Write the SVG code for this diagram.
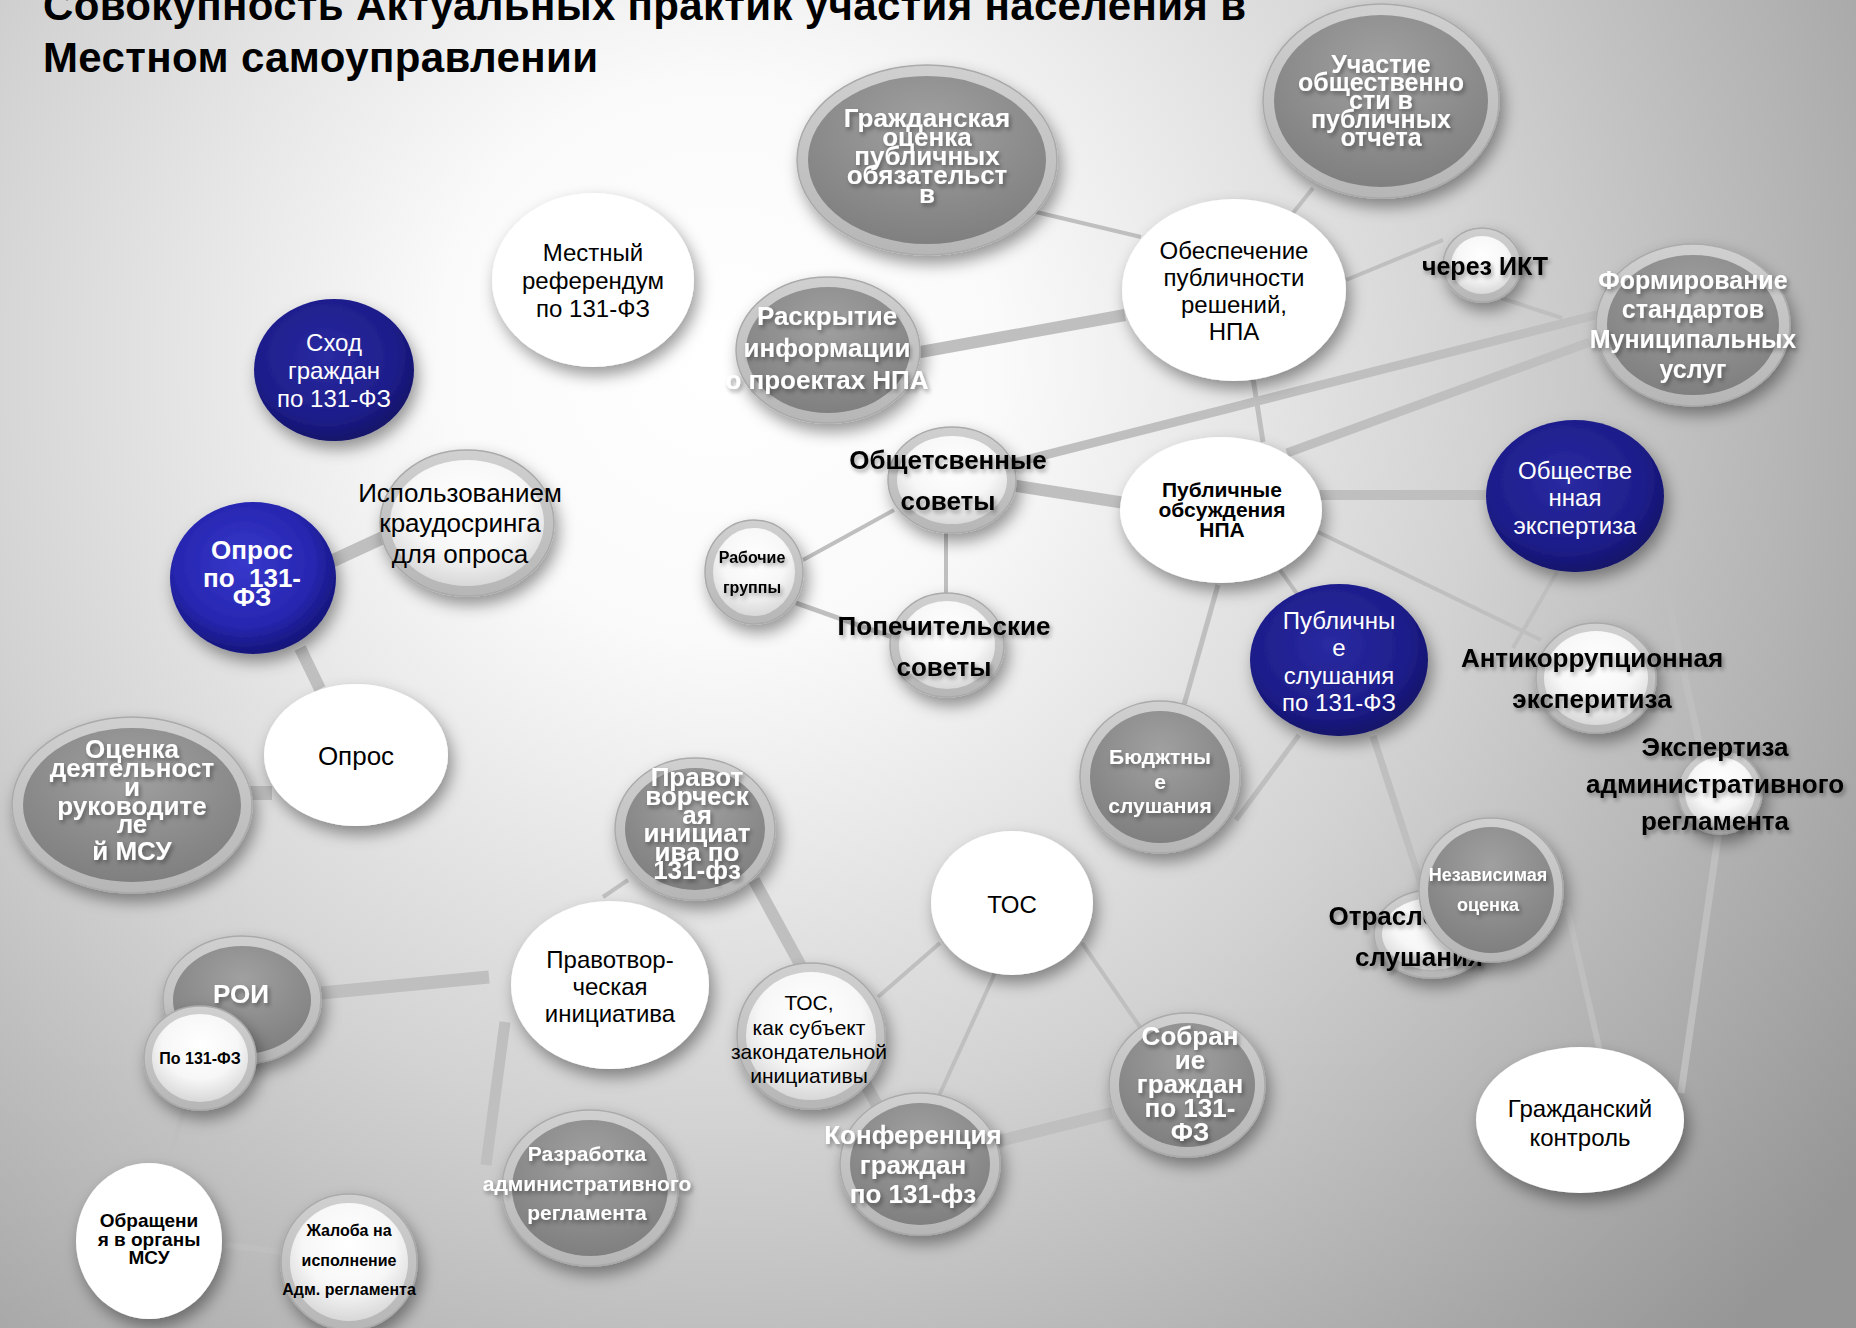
<svg xmlns="http://www.w3.org/2000/svg" width="1856" height="1328" viewBox="0 0 1856 1328">
<defs>
<radialGradient id="bg" gradientUnits="userSpaceOnUse" cx="720" cy="360" r="1400">
<stop offset="0" stop-color="#ffffff"/><stop offset="0.2" stop-color="#fafafa"/><stop offset="0.55" stop-color="#d2d2d2"/><stop offset="1" stop-color="#969696"/>
</radialGradient>
<radialGradient id="gBlue" cx="0.45" cy="0.4" r="0.6"><stop offset="0" stop-color="#2a2aa2"/><stop offset="0.75" stop-color="#1d1d8a"/><stop offset="1" stop-color="#12126a"/></radialGradient>
<radialGradient id="gBlue2" cx="0.45" cy="0.4" r="0.6"><stop offset="0" stop-color="#3838cc"/><stop offset="0.7" stop-color="#2626b0"/><stop offset="1" stop-color="#15157a"/></radialGradient>
<radialGradient id="gGray" cx="0.5" cy="0.3" r="0.8"><stop offset="0" stop-color="#a0a0a0"/><stop offset="1" stop-color="#7b7b7b"/></radialGradient>
<radialGradient id="gLight" cx="0.5" cy="0.35" r="0.65"><stop offset="0" stop-color="#ffffff"/><stop offset="0.6" stop-color="#f7f7f7"/><stop offset="1" stop-color="#d8d8d8"/></radialGradient>
<linearGradient id="gRing" x1="0" y1="0" x2="0" y2="1"><stop offset="0" stop-color="#d0d0d0"/><stop offset="1" stop-color="#b6b6b6"/></linearGradient>
<filter id="sh" x="-30%" y="-30%" width="170%" height="180%"><feDropShadow dx="4" dy="8" stdDeviation="8" flood-color="#000" flood-opacity="0.4"/></filter>
<filter id="ts" x="-10%" y="-30%" width="130%" height="180%"><feDropShadow dx="2" dy="3" stdDeviation="2" flood-color="#000" flood-opacity="0.35"/></filter>
<style>
.t{font-family:"Liberation Sans",Arial,sans-serif;text-anchor:middle;dominant-baseline:central}
.b{font-weight:bold}
.w{fill:#ffffff}
.k{fill:#000000}
.title{font-family:"Liberation Sans",Arial,sans-serif;font-weight:bold;font-size:42px;fill:#000}
.con line{stroke:#bfbfbf;stroke-linecap:butt}
.ring{fill:url(#gRing);stroke:#aaaaaa;stroke-width:1.5}
.gin{fill:url(#gGray)}
.lin{fill:url(#gLight)}
.wn{fill:#ffffff}
.blue{fill:url(#gBlue)}
.blue2{fill:url(#gBlue2)}
</style>
</defs>
<rect width="1856" height="1328" fill="url(#bg)"/>
<g id="title">
<text class="title" x="43" y="20" textLength="1203">Совокупность Актуальных практик участия населения в</text>
<text class="title" x="43" y="72" textLength="555">Местном самоуправлении</text>
</g>
<g id="connectors" class="con">
<line x1="1036" y1="212" x2="1141" y2="237" stroke-width="4"/>
<line x1="1313" y1="188" x2="1293" y2="213" stroke-width="4"/>
<line x1="915" y1="353" x2="1125" y2="315" stroke-width="12"/>
<line x1="1346" y1="280" x2="1443" y2="240" stroke-width="4"/>
<line x1="1501" y1="298" x2="1562" y2="318" stroke-width="4"/>
<line x1="1253" y1="378" x2="1263" y2="442" stroke-width="5"/>
<line x1="1010" y1="464" x2="1600" y2="314" stroke-width="9"/>
<line x1="1287" y1="453" x2="1590" y2="342" stroke-width="9"/>
<line x1="1010" y1="485" x2="1125" y2="503" stroke-width="12"/>
<line x1="894" y1="510" x2="803" y2="560" stroke-width="4"/>
<line x1="946" y1="532" x2="946" y2="595" stroke-width="4"/>
<line x1="796" y1="603" x2="892" y2="637" stroke-width="5"/>
<line x1="1320" y1="495" x2="1488" y2="495" stroke-width="10"/>
<line x1="1318" y1="532" x2="1541" y2="640" stroke-width="4"/>
<line x1="1557" y1="572" x2="1513" y2="648" stroke-width="4"/>
<line x1="1655" y1="540" x2="1703" y2="760" stroke-width="7"/>
<line x1="1719" y1="830" x2="1681" y2="1093" stroke-width="7"/>
<line x1="1280" y1="570" x2="1300" y2="598" stroke-width="4"/>
<line x1="1218" y1="585" x2="1184" y2="705" stroke-width="5"/>
<line x1="1299" y1="735" x2="1236" y2="820" stroke-width="5"/>
<line x1="1373" y1="736" x2="1423" y2="890" stroke-width="7"/>
<line x1="1567" y1="907" x2="1600" y2="1052" stroke-width="6"/>
<line x1="940" y1="943" x2="878" y2="997" stroke-width="4"/>
<line x1="995" y1="973" x2="938" y2="1098" stroke-width="4"/>
<line x1="1082" y1="943" x2="1140" y2="1027" stroke-width="4"/>
<line x1="995" y1="1142" x2="1112" y2="1113" stroke-width="12"/>
<line x1="754" y1="880" x2="878" y2="1107" stroke-width="12"/>
<line x1="603" y1="897" x2="628" y2="880" stroke-width="4"/>
<line x1="321" y1="993" x2="489" y2="977" stroke-width="13"/>
<line x1="505" y1="1022" x2="486" y2="1165" stroke-width="11"/>
<line x1="184" y1="1110" x2="167" y2="1167" stroke-width="5"/>
<line x1="225" y1="1245" x2="282" y2="1252" stroke-width="6"/>
<line x1="330" y1="562" x2="395" y2="532" stroke-width="13"/>
<line x1="300" y1="648" x2="320" y2="689" stroke-width="12"/>
<line x1="248" y1="793" x2="272" y2="793" stroke-width="14"/>
</g>
<g id="n-shod"><ellipse class="blue" cx="334" cy="370" rx="80" ry="71" filter="url(#sh)"/>
<text class="t w" font-size="24"><tspan x="334" y="342">Сход</tspan><tspan x="334" y="370">граждан</tspan><tspan x="334" y="398">по 131-ФЗ</tspan></text></g>
<g id="n-referendum"><ellipse class="wn" cx="593" cy="280" rx="101" ry="87" filter="url(#sh)"/>
<text class="t k" font-size="24"><tspan x="593" y="252">Местный</tspan><tspan x="593" y="280">референдум</tspan><tspan x="593" y="308">по 131-ФЗ</tspan></text></g>
<g id="n-ocenka-obyaz"><ellipse class="ring" cx="927" cy="160" rx="130" ry="95" filter="url(#sh)"/><ellipse class="gin" cx="927" cy="160" rx="119" ry="84"/>
<text class="t b w" font-size="26" filter="url(#ts)"><tspan x="927" y="118">Гражданская</tspan><tspan x="927" y="137">оценка</tspan><tspan x="927" y="156">публичных</tspan><tspan x="927" y="175">обязательст</tspan><tspan x="927" y="194">в</tspan></text></g>
<g id="n-uchastie"><ellipse class="ring" cx="1381" cy="101" rx="118" ry="97" filter="url(#sh)"/><ellipse class="gin" cx="1381" cy="101" rx="107" ry="86"/>
<text class="t b w" font-size="25" filter="url(#ts)"><tspan x="1381" y="64">Участие</tspan><tspan x="1381" y="82">общественно</tspan><tspan x="1381" y="100">сти в</tspan><tspan x="1381" y="119">публичных</tspan><tspan x="1381" y="137">отчета</tspan></text></g>
<g id="n-obespechenie"><ellipse class="wn" cx="1234" cy="290" rx="112" ry="91" filter="url(#sh)"/>
<text class="t k" font-size="24"><tspan x="1234" y="250">Обеспечение</tspan><tspan x="1234" y="277">публичности</tspan><tspan x="1234" y="304">решений,</tspan><tspan x="1234" y="331">НПА</tspan></text></g>
<g id="n-ikt"><ellipse class="ring" cx="1482" cy="265" rx="39" ry="37" filter="url(#sh)"/><ellipse class="lin" cx="1482" cy="265" rx="31" ry="29"/>
<text class="t b k" font-size="25" x="1485" y="266" filter="url(#ts)">через ИКТ</text></g>
<g id="n-standarty"><ellipse class="ring" cx="1693" cy="325" rx="97" ry="81" filter="url(#sh)"/><ellipse class="gin" cx="1693" cy="325" rx="86" ry="70"/>
<text class="t b w" font-size="25" filter="url(#ts)"><tspan x="1693" y="280">Формирование</tspan><tspan x="1693" y="309">стандартов</tspan><tspan x="1693" y="339">Муниципальных</tspan><tspan x="1693" y="369">услуг</tspan></text></g>
<g id="n-raskrytie"><ellipse class="ring" cx="828" cy="350" rx="92" ry="73" filter="url(#sh)"/><ellipse class="gin" cx="828" cy="350" rx="82" ry="63"/>
<text class="t b w" font-size="26" filter="url(#ts)"><tspan x="827" y="316">Раскрытие</tspan><tspan x="827" y="348">информации</tspan><tspan x="827" y="380">о проектах НПА</tspan></text></g>
<g id="n-obsh-sovety"><ellipse class="ring" cx="952" cy="480" rx="64" ry="53" filter="url(#sh)"/><ellipse class="lin" cx="952" cy="480" rx="55" ry="44"/>
<text class="t b k" font-size="26" filter="url(#ts)"><tspan x="948" y="460">Общетсвенные</tspan><tspan x="948" y="501">советы</tspan></text></g>
<g id="n-rabochie"><ellipse class="ring" cx="754" cy="572" rx="49" ry="52" filter="url(#sh)"/><ellipse class="lin" cx="754" cy="572" rx="41" ry="44"/>
<text class="t b k" font-size="16" filter="url(#ts)"><tspan x="752" y="557">Рабочие</tspan><tspan x="752" y="587">группы</tspan></text></g>
<g id="n-popech"><ellipse class="ring" cx="947" cy="645" rx="57" ry="52" filter="url(#sh)"/><ellipse class="lin" cx="947" cy="645" rx="48" ry="44"/>
<text class="t b k" font-size="26" filter="url(#ts)"><tspan x="944" y="626">Попечительские</tspan><tspan x="944" y="667">советы</tspan></text></g>
<g id="n-obsuzhdeniya"><ellipse class="wn" cx="1221" cy="510" rx="101" ry="73" filter="url(#sh)"/>
<text class="t b k" font-size="21"><tspan x="1222" y="489">Публичные</tspan><tspan x="1222" y="509">обсуждения</tspan><tspan x="1222" y="529">НПА</tspan></text></g>
<g id="n-obsh-ekspertiza"><ellipse class="blue" cx="1575" cy="496" rx="89" ry="76" filter="url(#sh)"/>
<text class="t w" font-size="24"><tspan x="1575" y="470">Обществе</tspan><tspan x="1575" y="497">нная</tspan><tspan x="1575" y="525">экспертиза</tspan></text></g>
<g id="n-slushaniya"><ellipse class="blue" cx="1339" cy="660" rx="89" ry="76" filter="url(#sh)"/>
<text class="t w" font-size="24"><tspan x="1339" y="620">Публичны</tspan><tspan x="1339" y="647">е</tspan><tspan x="1339" y="675">слушания</tspan><tspan x="1339" y="702">по 131-ФЗ</tspan></text></g>
<g id="n-antikorr"><ellipse class="ring" cx="1596" cy="678" rx="60" ry="55" filter="url(#sh)"/><ellipse class="lin" cx="1596" cy="678" rx="52" ry="47"/>
<text class="t b k" font-size="26" filter="url(#ts)"><tspan x="1592" y="658">Антикоррупционная</tspan><tspan x="1592" y="699">эксперитиза</tspan></text></g>
<g id="n-ekspertiza-adm"><ellipse class="ring" cx="1720" cy="792" rx="42" ry="42" filter="url(#sh)"/><ellipse class="lin" cx="1720" cy="792" rx="35" ry="35"/>
<text class="t b k" font-size="26" filter="url(#ts)"><tspan x="1715" y="747">Экспертиза</tspan><tspan x="1715" y="784">административного</tspan><tspan x="1715" y="821">регламента</tspan></text></g>
<g id="n-byudzhet"><ellipse class="ring" cx="1160" cy="777" rx="80" ry="76" filter="url(#sh)"/><ellipse class="gin" cx="1160" cy="777" rx="70" ry="66"/>
<text class="t b w" font-size="21" filter="url(#ts)"><tspan x="1160" y="756">Бюджтны</tspan><tspan x="1160" y="781">е</tspan><tspan x="1160" y="805">слушания</tspan></text></g>
<g id="n-otrasl"><ellipse class="ring" cx="1432" cy="934" rx="58" ry="44" filter="url(#sh)"/><ellipse class="lin" cx="1432" cy="934" rx="50" ry="36"/>
<text class="t b k" font-size="26" filter="url(#ts)"><tspan x="1409" y="916">Отраслевые</tspan><tspan x="1419" y="957">слушания</tspan></text></g>
<g id="n-nezavisimaya"><ellipse class="ring" cx="1491" cy="890" rx="72" ry="72" filter="url(#sh)"/><ellipse class="gin" cx="1491" cy="890" rx="63" ry="63"/>
<text class="t b w" font-size="18" filter="url(#ts)"><tspan x="1488" y="875">Независимая</tspan><tspan x="1488" y="905">оценка</tspan></text></g>
<g id="n-grazh-kontrol"><ellipse class="wn" cx="1580" cy="1120" rx="104" ry="73" filter="url(#sh)"/>
<text class="t k" font-size="24"><tspan x="1580" y="1108">Гражданский</tspan><tspan x="1580" y="1137">контроль</tspan></text></g>
<g id="n-tos"><ellipse class="wn" cx="1012" cy="903" rx="81" ry="72" filter="url(#sh)"/>
<text class="t k" font-size="24" x="1012" y="904">ТОС</text></g>
<g id="n-tos-subj"><ellipse class="ring" cx="811" cy="1036" rx="74" ry="73" filter="url(#sh)"/><ellipse class="lin" cx="811" cy="1036" rx="65" ry="64"/>
<text class="t k" font-size="21"><tspan x="809" y="1002">ТОС,</tspan><tspan x="809" y="1027">как субъект</tspan><tspan x="809" y="1051">закондательной</tspan><tspan x="809" y="1075">инициативы</tspan></text></g>
<g id="n-pravotv-131"><ellipse class="ring" cx="695" cy="829" rx="80" ry="71" filter="url(#sh)"/><ellipse class="gin" cx="695" cy="829" rx="70" ry="61"/>
<text class="t b w" font-size="26" filter="url(#ts)"><tspan x="697" y="777">Правот</tspan><tspan x="697" y="796">ворческ</tspan><tspan x="697" y="815">ая</tspan><tspan x="697" y="833">инициат</tspan><tspan x="697" y="852">ива по</tspan><tspan x="697" y="870">131-фз</tspan></text></g>
<g id="n-pravotv"><ellipse class="wn" cx="610" cy="985" rx="99" ry="84" filter="url(#sh)"/>
<text class="t k" font-size="24"><tspan x="610" y="959">Правотвор-</tspan><tspan x="610" y="986">ческая</tspan><tspan x="610" y="1013">инициатива</tspan></text></g>
<g id="n-sobranie"><ellipse class="ring" cx="1187" cy="1085" rx="78" ry="72" filter="url(#sh)"/><ellipse class="gin" cx="1187" cy="1085" rx="68" ry="62"/>
<text class="t b w" font-size="26" filter="url(#ts)"><tspan x="1190" y="1036">Собран</tspan><tspan x="1190" y="1060">ие</tspan><tspan x="1190" y="1084">граждан</tspan><tspan x="1190" y="1108">по 131-</tspan><tspan x="1190" y="1132">ФЗ</tspan></text></g>
<g id="n-konferenciya"><ellipse class="ring" cx="920" cy="1164" rx="80" ry="71" filter="url(#sh)"/><ellipse class="gin" cx="920" cy="1164" rx="70" ry="61"/>
<text class="t b w" font-size="26" filter="url(#ts)"><tspan x="913" y="1135">Конференция</tspan><tspan x="913" y="1165">граждан</tspan><tspan x="913" y="1194">по 131-фз</tspan></text></g>
<g id="n-roi"><ellipse class="ring" cx="242" cy="1000" rx="79" ry="64" filter="url(#sh)"/><ellipse class="gin" cx="242" cy="1000" rx="69" ry="54"/>
<text class="t b w" font-size="26" x="241" y="994" filter="url(#ts)">РОИ</text></g>
<g id="n-po131"><ellipse class="ring" cx="200" cy="1058" rx="56" ry="52" filter="url(#sh)"/><ellipse class="lin" cx="200" cy="1058" rx="48" ry="44"/>
<text class="t b k" font-size="16" x="200" y="1058">По 131-ФЗ</text></g>
<g id="n-ocenka-msu"><ellipse class="ring" cx="132" cy="805" rx="120" ry="88" filter="url(#sh)"/><ellipse class="gin" cx="132" cy="805" rx="109" ry="77"/>
<text class="t b w" font-size="26" filter="url(#ts)"><tspan x="132" y="749">Оценка</tspan><tspan x="132" y="768">деятельност</tspan><tspan x="132" y="787">и</tspan><tspan x="132" y="806">руководите</tspan><tspan x="132" y="824">ле</tspan><tspan x="132" y="851">й МСУ</tspan></text></g>
<g id="n-opros"><ellipse class="wn" cx="356" cy="755" rx="92" ry="71" filter="url(#sh)"/>
<text class="t k" font-size="26" x="356" y="756">Опрос</text></g>
<g id="n-opros131"><ellipse class="blue2" cx="253" cy="578" rx="83" ry="76" filter="url(#sh)"/>
<text class="t b w" font-size="26"><tspan x="252" y="550">Опрос</tspan><tspan x="252" y="578" xml:space="preserve">по  131-</tspan><tspan x="252" y="597">ФЗ</tspan></text></g>
<g id="n-kraud"><ellipse class="ring" cx="467" cy="523" rx="87" ry="73" filter="url(#sh)"/><ellipse class="lin" cx="467" cy="523" rx="77" ry="63"/>
<text class="t k" font-size="26"><tspan x="460" y="493">Использованием</tspan><tspan x="460" y="523">краудосринга</tspan><tspan x="460" y="554">для опроса</tspan></text></g>
<g id="n-obrasheniya"><ellipse class="wn" cx="149" cy="1241" rx="73" ry="78" filter="url(#sh)"/>
<text class="t b k" font-size="19"><tspan x="149" y="1220">Обращени</tspan><tspan x="149" y="1239">я в органы</tspan><tspan x="149" y="1257">МСУ</tspan></text></g>
<g id="n-zhaloba"><ellipse class="ring" cx="349" cy="1262" rx="68" ry="68" filter="url(#sh)"/><ellipse class="lin" cx="349" cy="1262" rx="59" ry="59"/>
<text class="t b k" font-size="16"><tspan x="349" y="1230">Жалоба на</tspan><tspan x="349" y="1260">исполнение</tspan><tspan x="349" y="1289">Адм. регламента</tspan></text></g>
<g id="n-razrabotka"><ellipse class="ring" cx="590" cy="1188" rx="88" ry="78" filter="url(#sh)"/><ellipse class="gin" cx="590" cy="1188" rx="78" ry="68"/>
<text class="t b w" font-size="21" filter="url(#ts)"><tspan x="587" y="1153">Разработка</tspan><tspan x="587" y="1183">административного</tspan><tspan x="587" y="1212">регламента</tspan></text></g>
</svg>
